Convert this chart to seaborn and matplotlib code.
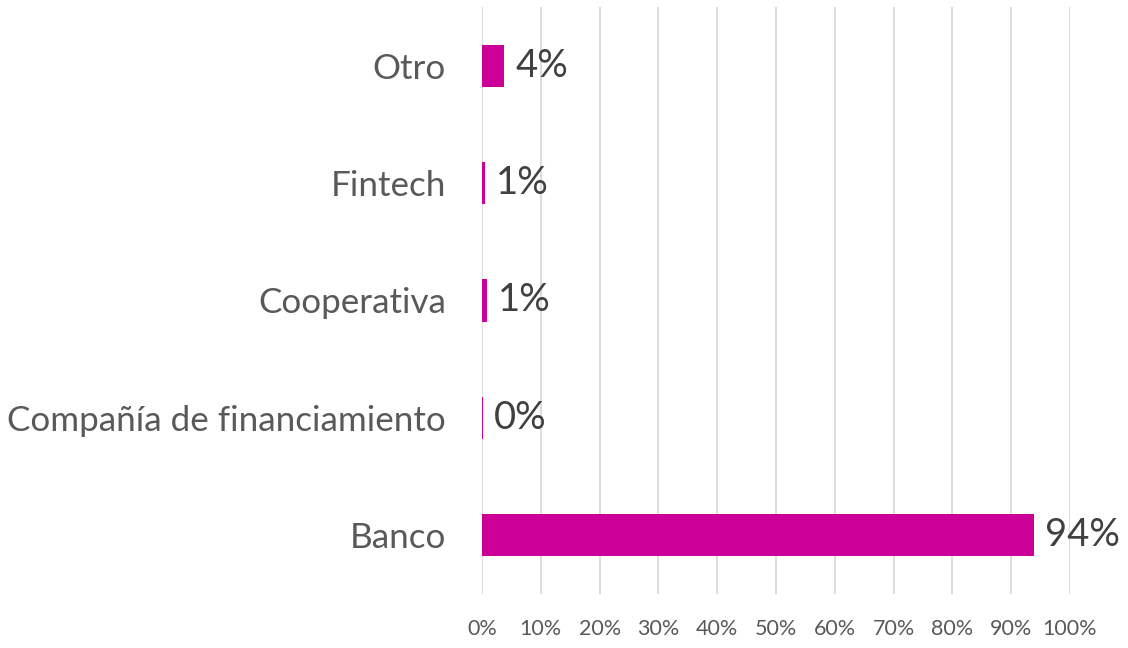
import matplotlib
matplotlib.use("Agg")
import matplotlib.pyplot as plt
import seaborn as sns
import pandas as pd
from matplotlib.ticker import FuncFormatter

categories = ["Otro", "Fintech", "Cooperativa", "Compañía de financiamiento", "Banco"]
values = [3.8, 0.5, 0.8, 0.1, 93.8]
value_labels = ["4%", "1%", "1%", "0%", "94%"]
x_ticks = [0, 10, 20, 30, 40, 50, 60, 70, 80, 90, 100]

df = pd.DataFrame({"cat": categories, "val": values})

sns.set_theme(style="white")
plt.rcParams["font.family"] = ["Lato", "DejaVu Sans"]

fig = plt.figure(figsize=(11.28, 6.48), dpi=100)
ax = fig.add_axes([482/1128, 1-594/648, 588/1128, 587/648])

sns.barplot(data=df, x="val", y="cat", orient="h", color="#CC0099",
            saturation=1, width=0.36, ax=ax, order=categories,
            edgecolor="none", linewidth=0)

ax.set_xlim(0, 100)
ax.set_xticks(x_ticks)
ax.xaxis.set_major_formatter(FuncFormatter(lambda v, p: f"{int(v)}%"))
ax.grid(axis="x", color="#D9D9D9", linewidth=1.3)
ax.set_axisbelow(True)
for s in ax.spines.values():
    s.set_visible(False)
ax.set_xlabel("")
ax.set_ylabel("")
ax.tick_params(axis="x", length=0, pad=18, labelsize=15.5, labelcolor="#595959")
ax.tick_params(axis="y", length=0, pad=26, labelsize=25.2, labelcolor="#595959")

for i, (v, lab) in enumerate(zip(values, value_labels)):
    ax.annotate(lab, (v, i), xytext=(8, 0), textcoords="offset points",
                va="center", ha="left", fontsize=27.5, color="#404040")

fig.savefig("out.png", dpi=100)
